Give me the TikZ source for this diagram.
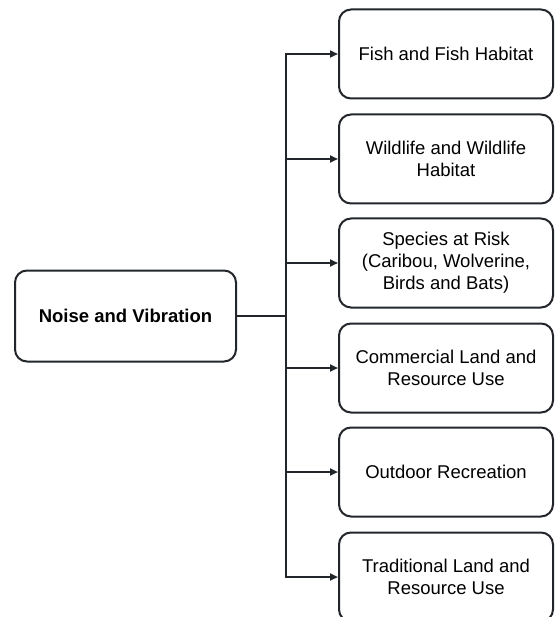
\documentclass[tikz,border=0pt]{standalone}
\usepackage{fontspec}
\setmainfont{Liberation Sans}
\usetikzlibrary{arrows.meta}
\definecolor{ink}{HTML}{22262A}
\begin{document}
\begin{tikzpicture}[x=1pt,y=-1pt,
  box/.style={draw=ink, line width=2pt, rounded corners=12pt, fill=white,
    minimum width=214pt, minimum height=89pt, align=center, text=black,
    font=\fontsize{18.5}{22}\selectfont, anchor=west, inner sep=0pt},
  mainbox/.style={draw=ink, line width=2pt, rounded corners=12pt, fill=white,
    minimum width=221pt, minimum height=91pt, align=center, text=black,
    font=\fontsize{18.5}{22}\selectfont\bfseries, inner sep=0pt},
  link/.style={draw=ink, line width=2pt},
  arr/.style={link, -{Triangle[length=8pt,width=7pt]}}]
\useasboundingbox (0,0) rectangle (554,617);
\clip (0,0) rectangle (554,617);
\node[mainbox] (main) at (125.5,316) {Noise and Vibration};
\node[box] (b1) at (338,54) {Fish and Fish Habitat};
\node[box] (b2) at (338,159) {Wildlife and Wildlife\\Habitat};
\node[box] (b3) at (338,263) {Species at Risk\\(Caribou, Wolverine,\\Birds and Bats)};
\node[box] (b4) at (338,368) {Commercial Land and\\Resource Use};
\node[box] (b5) at (338,472) {Outdoor Recreation};
\node[box] (b6) at (338,577) {Traditional Land and\\Resource Use};
\coordinate (j) at (286,316);
\coordinate (t1) at (286,54);
\coordinate (t6) at (286,577);
\draw[link] (main.east) -- (j);
\draw[link, line cap=rect] (t1) -- (t6);
\foreach \k in {1,...,6}{
  \draw[arr] (286,0 |- b\k.west) -- (b\k.west);
}
\end{tikzpicture}
\end{document}
